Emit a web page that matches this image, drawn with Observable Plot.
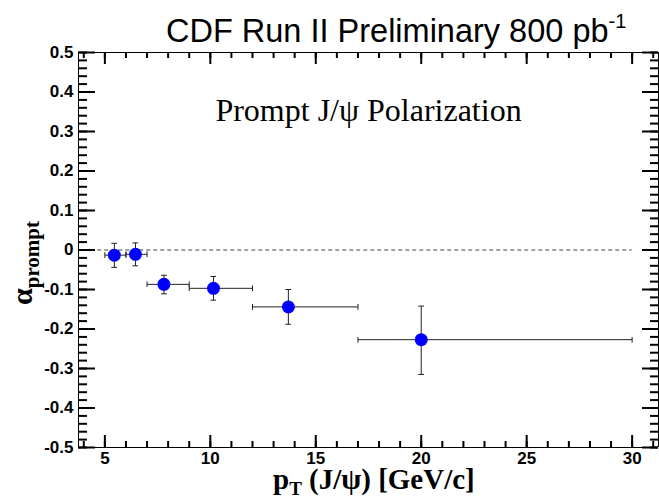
<!DOCTYPE html>
<html><head><meta charset="utf-8">
<script src="https://cdn.jsdelivr.net/npm/d3@7"></script>
<script src="https://cdn.jsdelivr.net/npm/@observablehq/plot@0.6"></script>
<style>
body{margin:0;background:#fff;}
</style></head><body><div id="wrap"></div>
<script>
// Data: prompt J/psi polarization vs pT
const ptCenter = [5.45, 6.45, 7.8, 10.15, 13.7, 20.0];
const ptLow    = [5, 6, 7, 9, 12, 17];
const ptHigh   = [6, 7, 9, 12, 17, 30];
const alphaVal = [-0.013, -0.011, -0.087, -0.097, -0.144, -0.227];
const errUp    = [0.030, 0.029, 0.023, 0.030, 0.044, 0.085];
const errDown  = [0.031, 0.029, 0.024, 0.030, 0.044, 0.088];

const xDomain = [3.75, 31.25];
const yDomain = [-0.5, 0.5];
const xMajor = [5, 10, 15, 20, 25, 30];
const xMinor = d3.range(4, 32);
const yMajor = d3.range(-5, 6).map(i => i / 10);
const yMinor = d3.range(-25, 26).map(i => i / 50);
const zeroLine = [4, 30];

const rows = ptCenter.map((x, i) => ({
  x, lo: ptLow[i], hi: ptHigh[i], a: alphaVal[i],
  aLo: alphaVal[i] - errDown[i], aHi: alphaVal[i] + errUp[i]
}));

const W = 659, H = 497, mL = 78, mR = 1, mT = 52, mB = 50;
const iw = W - mL - mR, ih = H - mT - mB;

const tickFmt = d => d === 0 ? "0" : String(+d.toFixed(2));
const fr = {stroke: "black", strokeWidth: 1};
const tk = {stroke: "black", strokeWidth: 2};

const plot = Plot.plot({
  width: W, height: H,
  marginLeft: mL, marginRight: mR, marginTop: mT, marginBottom: mB,
  x: {domain: xDomain},
  y: {domain: yDomain},
  style: {fontFamily: "'Liberation Sans', Arial, sans-serif", fontSize: "17px", fontWeight: "bold", color: "black", background: "white"},
  marks: [
    // dashed zero line
    Plot.ruleY([0], {x1: zeroLine[0], x2: zeroLine[1], stroke: "#444", strokeDasharray: "4,3", strokeWidth: 1}),
    // frame edges
    Plot.ruleX(xDomain, fr),
    Plot.ruleY(yDomain, fr),
    // bottom / top ticks
    Plot.ruleX(xMajor, {...tk, insetTop: ih - 12}),
    Plot.ruleX(xMinor, {...tk, insetTop: ih - 6}),
    Plot.ruleX(xMajor, {...tk, insetBottom: ih - 12}),
    Plot.ruleX(xMinor, {...tk, insetBottom: ih - 6}),
    // left / right ticks
    Plot.ruleY(yMajor, {...tk, insetRight: iw - 17}),
    Plot.ruleY(yMinor, {...tk, insetRight: iw - 9}),
    Plot.ruleY(yMajor, {...tk, insetLeft: iw - 16}),
    Plot.ruleY(yMinor, {...tk, insetLeft: iw - 8}),
    // tick labels
    Plot.axisX(xMajor, {anchor: "bottom", tickSize: 0, tickPadding: 4, label: null, tickFormat: d => String(d)}),
    Plot.axisY(yMajor, {anchor: "left", tickSize: 0, tickPadding: 5, label: null, tickFormat: tickFmt}),
    // error bars
    Plot.link(rows, {x1: "lo", x2: "hi", y1: "a", y2: "a", stroke: "#222", strokeWidth: 1, markerStart: "tick", markerEnd: "tick"}),
    Plot.link(rows, {x1: "x", x2: "x", y1: "aLo", y2: "aHi", stroke: "#222", strokeWidth: 1, markerStart: "tick", markerEnd: "tick"}),
    // points
    Plot.dot(rows, {x: "x", y: "a", r: 6.5, fill: "#0000ff", stroke: "none"}),
    // in-plot annotation
    Plot.text(["Prompt J/ψ Polarization"], {frameAnchor: "top", dy: 46, fontFamily: "'Liberation Serif', 'Times New Roman', serif", fontWeight: "normal", fontSize: 32, fill: "black"})
  ]
});

document.getElementById("wrap").appendChild(plot);

// title and axis titles, added into the same SVG
const sv = d3.select(plot);
const t = sv.append("text").attr("x", 166).attr("y", 42).attr("text-anchor", "start")
  .attr("font-family", "'Liberation Sans', Arial, sans-serif").attr("font-size", 32.5).attr("font-weight", "normal").attr("fill", "black");
t.append("tspan").text("CDF Run II Preliminary 800 pb");
t.append("tspan").attr("dy", -14).attr("font-size", 20).text("-1");

const xl = sv.append("text").attr("x", 273).attr("y", 489).attr("text-anchor", "start")
  .attr("font-family", "'Liberation Serif', 'Times New Roman', serif").attr("font-weight", "bold").attr("font-size", 29).attr("fill", "black");
xl.append("tspan").text("p");
xl.append("tspan").attr("dy", 6).attr("font-size", 19).text("T");
xl.append("tspan").attr("dy", -6).text(" (J/ψ) [GeV/c]");

const yl = sv.append("text").attr("transform", "translate(32,305) rotate(-90)").attr("text-anchor", "start")
  .attr("font-family", "'Liberation Serif', 'Times New Roman', serif").attr("font-weight", "bold").attr("font-size", 30).attr("fill", "black");
yl.append("tspan").text("α");
yl.append("tspan").attr("dy", 7).attr("font-size", 21).text("prompt");
</script>
</body></html>
